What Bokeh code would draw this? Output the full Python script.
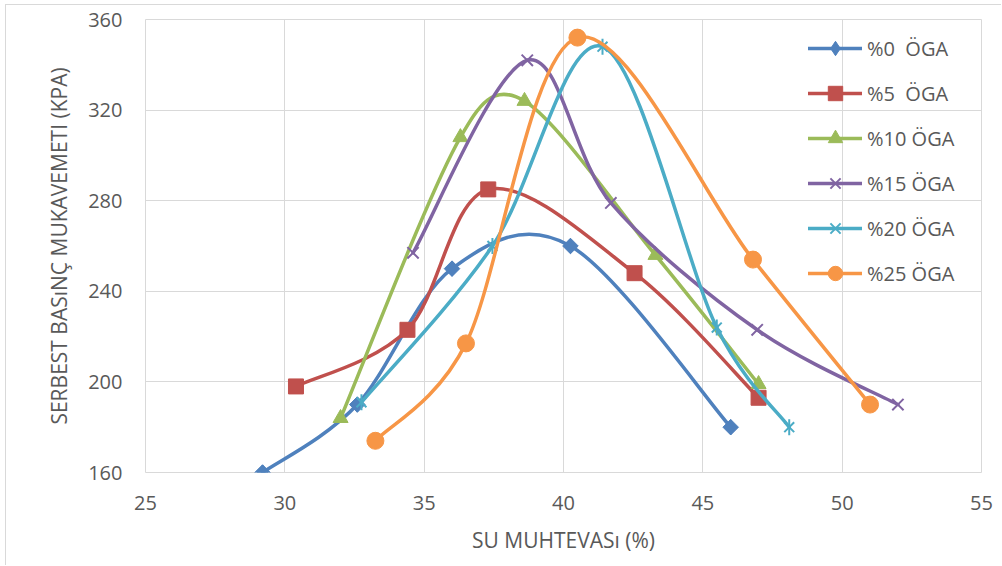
import numpy as np
from bokeh.plotting import figure
from bokeh.models import ColumnDataSource, Legend, LegendItem, FixedTicker, Range1d
from bokeh.embed import file_html
from bokeh.resources import INLINE

# ---- data ----
x_ticks = [25, 30, 35, 40, 45, 50, 55]
y_ticks = [160, 200, 240, 280, 320, 360]

names = ["%0  ÖGA", "%5  ÖGA", "%10 ÖGA", "%15 ÖGA", "%20 ÖGA", "%25 ÖGA"]

x_oga0 = [29.2, 32.6, 36.0, 40.25, 46.0]
y_oga0 = [160, 190, 250, 260, 180]

x_oga5 = [30.4, 34.4, 37.3, 42.55, 47.0]
y_oga5 = [198, 223, 285, 248, 193]

x_oga10 = [32.0, 36.3, 38.6, 43.3, 47.0]
y_oga10 = [184, 308, 324, 256, 199]

x_oga15 = [34.6, 38.7, 41.7, 46.95, 52.0]
y_oga15 = [257, 342, 279, 223, 190]

x_oga20 = [32.75, 37.45, 41.4, 45.5, 48.1]
y_oga20 = [191, 260, 348, 224, 180]

x_oga25 = [33.25, 36.5, 40.5, 46.8, 51.0]
y_oga25 = [174, 217, 352, 254, 190]

xs_all = [x_oga0, x_oga5, x_oga10, x_oga15, x_oga20, x_oga25]
ys_all = [y_oga0, y_oga5, y_oga10, y_oga15, y_oga20, y_oga25]

colors = ["#4F81BD", "#C0504D", "#9BBB59", "#8064A2", "#4BACC6", "#F79646"]

FONT = "Open Sans"
TXT = "#595959"
GRID = "#D9D9D9"

W, H = 996, 561
BL, BR, BT, BB = 139, 21, 14, 94
X0, X1 = 25, 55
Y0, Y1 = 160, 360
# pixel-per-unit of the frame, used only to measure lengths for smoothing
KX = (W - BL - BR) / (X1 - X0)
KY = (H - BT - BB) / (Y1 - Y0)


def smooth_segments(xs, ys):
    """Bezier control points for a smoothed line through the data points
    (Catmull-Rom tangents, arm length limited to half the segment)."""
    x = np.asarray(xs, float)
    y = np.asarray(ys, float)
    n = len(x)

    def arm(ax, ay, seg):
        ln = np.hypot(ax * KX, ay * KY)
        lim = 0.5 * seg
        if ln > lim and ln > 0:
            s = lim / ln
            return ax * s, ay * s
        return ax, ay

    d = dict(x0=[], y0=[], x1=[], y1=[], cx0=[], cy0=[], cx1=[], cy1=[])
    for i in range(n - 1):
        im = i - 1 if i > 0 else i
        ip = i + 2 if i + 2 < n else i + 1
        seg = np.hypot((x[i + 1] - x[i]) * KX, (y[i + 1] - y[i]) * KY)
        a0x, a0y = arm((x[i + 1] - x[im]) / 6.0, (y[i + 1] - y[im]) / 6.0, seg)
        a1x, a1y = arm((x[ip] - x[i]) / 6.0, (y[ip] - y[i]) / 6.0, seg)
        d["x0"].append(x[i]); d["y0"].append(y[i])
        d["x1"].append(x[i + 1]); d["y1"].append(y[i + 1])
        d["cx0"].append(x[i] + a0x)
        d["cy0"].append(y[i] + a0y)
        d["cx1"].append(x[i + 1] - a1x)
        d["cy1"].append(y[i + 1] - a1y)
    return d


p = figure(width=W, height=H,
           x_range=Range1d(X0, X1), y_range=Range1d(Y0, Y1),
           output_backend="svg", toolbar_location=None,
           min_border_left=BL, min_border_right=BR,
           min_border_top=BT, min_border_bottom=BB)
p.styles = {"margin-left": "5px", "margin-top": "4px",
            "border-left": "1px solid #D9D9D9", "border-top": "1px solid #D9D9D9"}

p.background_fill_color = "white"
p.border_fill_color = "white"
p.outline_line_color = GRID
p.outline_line_width = 1

p.xaxis.ticker = FixedTicker(ticks=x_ticks)
p.yaxis.ticker = FixedTicker(ticks=y_ticks)
for ax in (p.xaxis[0], p.yaxis[0]):
    ax.axis_line_color = None
    ax.major_tick_line_color = None
    ax.minor_tick_line_color = None
    ax.major_tick_out = 0
    ax.major_tick_in = 0
    ax.major_label_text_font = FONT
    ax.major_label_text_font_size = "20px"
    ax.major_label_text_color = TXT
    ax.axis_label_text_font = FONT
    ax.axis_label_text_font_size = "21px"
    ax.axis_label_text_font_style = "normal"
    ax.axis_label_text_color = TXT

p.xaxis.axis_label = "SU MUHTEVASı (%)"
p.yaxis.axis_label = "SERBEST BASıNÇ MUKAVEMETI (KPA)"
p.xaxis.major_label_standoff = 23
p.xaxis.axis_label_standoff = 13
p.yaxis.major_label_standoff = 23
p.yaxis.axis_label_standoff = 12

p.xgrid.grid_line_color = GRID
p.ygrid.grid_line_color = GRID
p.xgrid.grid_line_width = 1
p.ygrid.grid_line_width = 1

items = []
for k in range(6):
    src = ColumnDataSource(smooth_segments(xs_all[k], ys_all[k]))
    c = colors[k]
    line_r = p.bezier(x0="x0", y0="y0", x1="x1", y1="y1",
                      cx0="cx0", cy0="cy0", cx1="cx1", cy1="cy1",
                      source=src, line_color=c, line_width=3.5, line_cap="round")
    pts = ColumnDataSource(dict(x=xs_all[k], y=ys_all[k]))
    rs = [line_r]
    if k == 0:
        # diamond used for the legend entry, hidden under the rotated squares
        rs.append(p.scatter("x", "y", source=pts, marker="diamond", size=15,
                            fill_color=c, line_color=c))
        p.scatter("x", "y", source=pts, marker="square", angle=np.pi / 4,
                  size=11, fill_color=c, line_color=c)
    elif k == 1:
        rs.append(p.scatter("x", "y", source=pts, marker="square", size=15,
                            fill_color=c, line_color=c))
    elif k == 2:
        rs.append(p.scatter("x", "y", source=pts, marker="triangle", size=15,
                            fill_color=c, line_color=c))
    elif k == 3:
        rs.append(p.scatter("x", "y", source=pts, marker="x", size=16,
                            line_color=c, line_width=2))
    elif k == 4:
        rs.append(p.scatter("x", "y", source=pts, marker="x", size=14,
                            line_color=c, line_width=2))
        rs.append(p.scatter("x", "y", source=pts, marker="dash", angle=np.pi / 2,
                            size=16, line_color=c, line_width=2))
    else:
        rs.append(p.scatter("x", "y", source=pts, marker="circle", size=17,
                            fill_color=c, line_color=c))
    items.append(LegendItem(label=names[k], renderers=rs))

legend = Legend(items=items, location=(663, 181),
                glyph_width=54, glyph_height=36, label_height=36,
                spacing=9, padding=0, margin=0, label_standoff=5,
                label_text_font=FONT, label_text_font_size="20px",
                label_text_color=TXT, border_line_color=None,
                background_fill_alpha=0)
p.add_layout(legend)

open("out.html", "w").write(file_html(p, INLINE))
